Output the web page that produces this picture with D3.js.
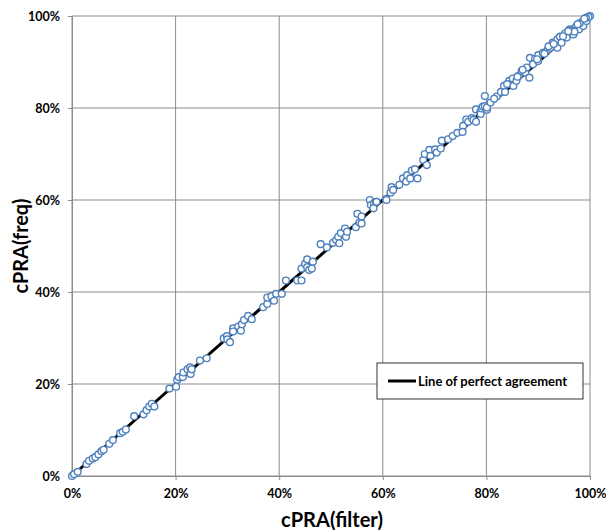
<!DOCTYPE html>
<html>
<head>
<meta charset="utf-8">
<script src="https://cdn.jsdelivr.net/npm/d3@7"></script>
<style>
  body { margin: 0; background: #fff; }
  svg text { font-family: Lato, "Liberation Sans", sans-serif; font-weight: bold; }
</style>
</head>
<body>
<div id="grafico"></div>
<script>
// cPRA(filter) vs cPRA(freq), en porcentaje
const filtro = [
  0, 0.4, 1.1, 2.8, 3.3, 4.0, 4.5, 5.1, 5.7, 6.1, 7.2, 7.9, 9.3, 9.8, 10.4, 12.0, 13.8, 14.4, 14.9, 15.4, 15.9,
  18.8, 20.1, 20.3, 20.6, 21.4, 21.5, 22.3, 22.8, 22.9, 23.1, 24.7, 26.0,
  29.3, 29.9, 30.0, 30.5, 31.1, 31.1, 32.1, 32.6, 32.8, 33.2, 34.0, 34.7, 36.9, 37.7, 37.7, 38.5, 39.0, 39.4,
  40.5, 41.3, 43.5, 44.3, 44.3, 45.0, 45.4, 45.4, 45.8, 46.3, 46.5, 48.0, 49.2, 50.4, 51.0, 51.4, 51.6, 51.9,
  52.7, 52.9, 53.1, 54.8, 55.1, 55.5, 55.9, 55.9, 57.5, 57.7, 58.3, 58.2, 58.7, 58.8, 60.6, 60.7,
  61.5, 61.7, 62.0, 63.2, 63.9, 64.5, 64.7, 65.3, 65.6, 66.7, 66.2, 67.8, 68.1, 68.5, 69.0, 69.2, 70.1, 70.4,
  71.4, 71.2, 72.6, 73.5, 74.4, 75.5, 75.4, 76.1, 76.5, 77.2, 77.5, 78.0, 78.0, 78.8, 78.9, 79.1, 79.3, 79.7,
  79.7, 80.1, 80.1, 80.8, 82.0, 82.8, 83.4, 83.6, 84.4, 85.1, 85.2, 85.8, 86.3, 86.8, 87.5, 87.8, 88.3, 88.4,
  89.4, 89.0, 90.0, 90.0, 90.9, 91.8, 92.3, 92.8, 93.7, 93.7, 94.2, 94.5, 95.2, 95.5, 96.1, 96.8, 97.3, 97.9,
  98.4, 99.0, 99.5, 100, 98.7, 99.3, 96.5, 97.0, 98.0, 99.7, 99.2,
  81.5, 84.0, 86.0, 87.0, 89.8, 91.2, 92.0, 93.0, 94.8, 95.8, 97.6, 98.9
];
const frecuencia = [
  0, 0.4, 0.9, 2.6, 3.3, 3.8, 4.1, 4.7, 5.4, 5.7, 7.0, 7.8, 9.3, 9.6, 10.1, 13.0, 13.4, 14.3, 15.1, 15.7, 15.1,
  19.0, 19.4, 20.9, 21.5, 21.5, 22.5, 23.2, 23.6, 22.2, 23.2, 25.1, 25.6,
  29.9, 30.4, 29.7, 29.1, 32.1, 31.4, 32.5, 31.6, 33.0, 33.9, 34.8, 34.1, 36.7, 37.4, 38.8, 39.1, 38.1, 39.6,
  39.6, 42.5, 42.5, 42.5, 45.1, 46.1, 47.1, 45.4, 44.8, 45.1, 46.6, 50.4, 49.7, 50.7, 51.3, 52.0, 50.6, 52.8,
  53.8, 52.0, 53.1, 54.1, 57.0, 55.1, 56.4, 54.9, 60.0, 58.9, 59.3, 58.2, 59.6, 59.6, 60.2, 60.0,
  61.6, 62.8, 62.2, 63.3, 64.7, 64.0, 65.4, 64.7, 66.4, 64.7, 66.7, 68.7, 70.0, 67.6, 70.9, 69.6, 71.0, 70.3,
  72.9, 71.2, 73.2, 73.9, 74.6, 76.1, 74.8, 77.5, 77.0, 77.8, 77.4, 79.7, 77.0, 79.1, 78.7, 79.9, 80.3, 80.4,
  82.6, 79.6, 80.1, 81.2, 82.5, 83.5, 84.8, 83.5, 85.9, 86.4, 84.8, 85.9, 87.0, 88.0, 87.7, 88.8, 86.6, 90.9,
  90.7, 89.5, 91.5, 90.2, 92.0, 92.6, 93.1, 94.2, 94.9, 93.1, 95.5, 94.2, 96.2, 95.3, 97.1, 96.0, 97.7, 97.1,
  98.7, 99.3, 99.6, 100, 97.8, 98.9, 96.8, 96.6, 98.4, 99.8, 99.6,
  82.0, 85.2, 86.8, 88.3, 90.6, 91.8, 93.4, 93.9, 95.6, 96.7, 98.2, 99.4
];
const ticks = [0, 20, 40, 60, 80, 100];
const lineaPerfecta = [0, 100];
const textoLeyenda = "Line of perfect agreement";

const ancho = 606, alto = 530;
const margen = { izq: 72, der: 16, arr: 16, aba: 54 };

const x = d3.scaleLinear().domain([0, 100]).range([margen.izq, ancho - margen.der]);
const y = d3.scaleLinear().domain([0, 100]).range([alto - margen.aba, margen.arr]);

const $svg = d3.select("#grafico")
  .append("svg")
  .attr("width", ancho)
  .attr("height", alto);

// cuadricula
$svg.append("g")
  .selectAll("line")
  .data(ticks)
  .join("line")
  .attr("x1", d => x(d)).attr("x2", d => x(d))
  .attr("y1", y(0)).attr("y2", y(100))
  .attr("stroke", "#8c8c8c").attr("stroke-width", 1);

$svg.append("g")
  .selectAll("line")
  .data(ticks)
  .join("line")
  .attr("x1", x(0)).attr("x2", x(100))
  .attr("y1", d => y(d)).attr("y2", d => y(d))
  .attr("stroke", "#8c8c8c").attr("stroke-width", 1);

// ejes
const formato = d => d + "%";
const ejeX = $svg.append("g")
  .attr("transform", `translate(0,${y(0)})`)
  .call(d3.axisBottom(x).tickValues(ticks).tickFormat(formato).tickSize(4).tickPadding(9));
const ejeY = $svg.append("g")
  .attr("transform", `translate(${x(0)},0)`)
  .call(d3.axisLeft(y).tickValues(ticks).tickFormat(formato).tickSize(4).tickPadding(8));

[ejeX, ejeY].forEach(eje => {
  eje.select(".domain").attr("stroke", "#8c8c8c");
  eje.selectAll(".tick line").attr("stroke", "#8c8c8c");
  eje.selectAll(".tick text")
    .attr("fill", "#000")
    .attr("font-size", 12.5)
    .attr("font-family", "Lato, sans-serif")
    .attr("font-weight", "bold");
});

// linea de acuerdo perfecto
$svg.append("path")
  .datum(lineaPerfecta)
  .attr("d", d3.line().x(d => x(d)).y(d => y(d)))
  .attr("stroke", "#000")
  .attr("stroke-width", 3)
  .attr("fill", "none");

// puntos
$svg.append("g")
  .selectAll("circle")
  .data(filtro.map((f, i) => [f, frecuencia[i]]))
  .join("circle")
  .attr("cx", d => x(d[0]))
  .attr("cy", d => y(d[1]))
  .attr("r", 3.4)
  .attr("fill", "#fff")
  .attr("stroke", "#4f81bd")
  .attr("stroke-width", 1.4);

// titulos de ejes
$svg.append("text")
  .attr("x", 332)
  .attr("y", 527)
  .attr("text-anchor", "middle")
  .attr("font-size", 21)
  .attr("textLength", 102)
  .attr("lengthAdjust", "spacingAndGlyphs")
  .text("cPRA(filter)");

$svg.append("text")
  .attr("transform", `translate(28,${(y(0) + y(100)) / 2}) rotate(-90)`)
  .attr("text-anchor", "middle")
  .attr("font-size", 21)
  .attr("textLength", 95)
  .attr("lengthAdjust", "spacingAndGlyphs")
  .text("cPRA(freq)");

// leyenda
const leyenda = $svg.append("g").attr("transform", "translate(377,363)");
leyenda.append("rect")
  .attr("width", 206).attr("height", 36)
  .attr("fill", "#fff")
  .attr("stroke", "#000").attr("stroke-width", 0.8);
leyenda.append("line")
  .attr("x1", 11).attr("x2", 39)
  .attr("y1", 18).attr("y2", 18)
  .attr("stroke", "#000").attr("stroke-width", 3);
leyenda.append("text")
  .attr("x", 41).attr("y", 22.5)
  .attr("font-size", 13)
  .text(textoLeyenda);
</script>
</body>
</html>
